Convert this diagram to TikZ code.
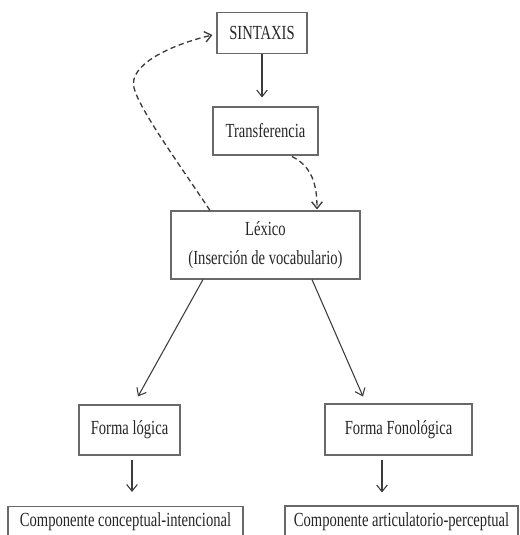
\documentclass[tikz,border=0pt]{standalone}
\usepackage{fontspec}
\setmainfont[FakeStretch=0.73]{Liberation Serif}
\usepackage{tikz}
\usetikzlibrary{arrows.meta}
\usetikzlibrary{positioning}
\usetikzlibrary{calc}

\definecolor{boxgray}{RGB}{105,105,105}
\definecolor{linegray}{RGB}{60,60,60}

\tikzset{
  boxsize/.style 2 args={minimum width=#1*0.75pt, minimum height=#2*0.75pt},
  box/.style={draw=boxgray, line width=0.8pt, inner sep=0pt, align=center,
    text=black!85, font=\fontsize{15}{18}\selectfont},
  solidarrow/.style={draw=linegray, line width=0.8pt,
    -{Straight Barb[length=5pt,width=8pt,line width=0.8pt]}},
  dasharrow/.style={draw=linegray, line width=1pt, dash pattern=on 4pt off 2.6pt,
    -{Straight Barb[length=5pt,width=8pt,line width=1pt]}}
}

\begin{document}
\begin{tikzpicture}[x=0.75pt,y=0.75pt,yscale=-1,xscale=1]
\useasboundingbox (0,0) rectangle (520,535);
\clip (0,0) rectangle (520,535);

% Text Node
\node[box, boxsize={90}{41}] (sint) at (262,33) {SINTAXIS};
% Text Node
\node[box, boxsize={105}{48}] (trans) at (265.5,131) {Transferencia};
% Text Node
\node[box, boxsize={189}{68}] (lexico) at (265.5,245) {Léxico\\[4pt](Inserción de vocabulario)};
% Text Node
\node[box, boxsize={101}{50}] (flog) at (129.5,430) {Forma lógica};
% Text Node
\node[box, boxsize={147}{51}] (ffon) at (398.5,429.5) {Forma Fonológica};
% Text Node
\node[box, boxsize={235}{31}] (ccon) at (125.5,522) {Componente conceptual-intencional};
% Text Node
\node[box, boxsize={233}{31}] (cart) at (401.5,521.5) {Componente articulatorio-perceptual};

%Straight Lines
\draw[solidarrow] (sint.south) -- ($(trans.north)+(-3.5,-9)$);
\draw[solidarrow] ($(lexico.south)+(-62.5,0)$) -- ($(flog.north)+(8.5,-8)$);
\draw[solidarrow] ($(lexico.south)+(46.5,0)$) -- ($(ffon.north)+(-35.5,-7)$);
\draw[solidarrow] ($(flog.south)+(2.5,4)$) -- ($(ccon.north)+(6.5,-14)$);
\draw[solidarrow] ($(ffon.south)+(-16.5,4)$) -- ($(cart.north)+(-19.5,-13)$);

%Curve Lines
\draw[dasharrow] ($(trans.south)+(26.5,1)$)
  .. controls +(20,10) and +(0,-25) .. ($(lexico.north)+(51.5,-1)$);
\draw[dasharrow] ($(lexico.north)+(-55.5,0)$)
  .. controls (175,158) and (140,110) .. (134,88)
  .. controls (128,65) and (170,45) .. ($(sint.west)+(-4,2)$);

\end{tikzpicture}
\end{document}
